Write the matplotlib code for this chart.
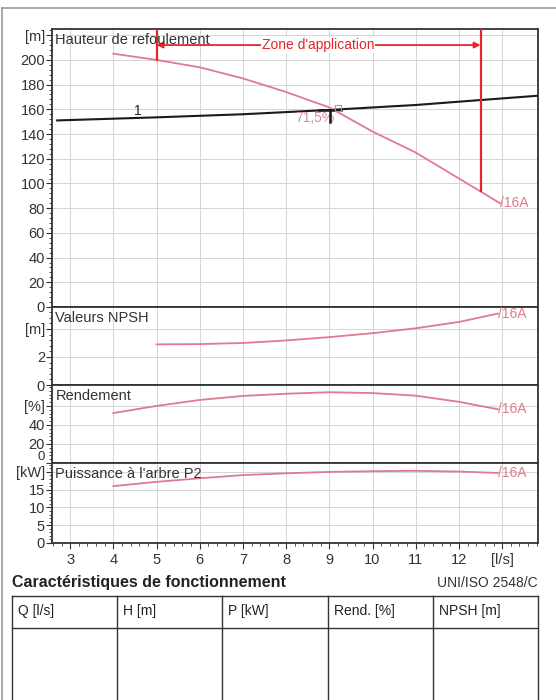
import numpy as np
import matplotlib.pyplot as plt
from matplotlib.ticker import MultipleLocator

plt.rcParams['font.family'] = ['Liberation Sans', 'DejaVu Sans']

# --- données ---
# hauteur (courbe pompe /16A)
q_h = [4, 5, 6, 7, 8, 9, 10, 11, 12, 12.5, 12.95]
h_pompe = [205, 200, 194, 185, 174, 161.5, 142, 125, 104, 93.5, 84]
# courbe du réseau (1)
q_sys = [2.7, 5, 7, 9, 11, 12.5, 13.83]
h_sys = [151, 153.5, 156, 159.5, 163.5, 167.5, 171]
# NPSH
q_npsh = [5, 6, 7, 8, 9, 10, 11, 12, 12.9]
npsh = [2.9, 2.92, 3.0, 3.18, 3.42, 3.7, 4.05, 4.5, 5.1]
# rendement
q_rend = [4, 5, 6, 7, 8, 9, 10, 11, 12, 12.9]
rend = [52.5, 60, 66.3, 70.5, 72.8, 74.4, 73.5, 70.8, 64.3, 56.5]
# puissance P2
q_p2 = [4, 5, 6, 7, 8, 9, 10, 11, 12, 12.9]
p2 = [16.0, 17.2, 18.2, 19.1, 19.6, 20.0, 20.2, 20.3, 20.1, 19.7]

# zone d'application et point de fonctionnement
zone_q = [5, 12.5]
zone_h = [200, 93.5]
q_point, h_point = 9.02, 159.5

x_ticks = [3, 4, 5, 6, 7, 8, 9, 10, 11, 12, 13]
x_labels = ['3', '4', '5', '6', '7', '8', '9', '10', '11', '12', '[l/s]']
headers = ['Q [l/s]', 'H [m]', 'P [kW]', 'Rend. [%]', 'NPSH [m]']

rose = '#e07a8c'
rouge = '#e3262b'
gris_grille = '#d4d4d4'
noir = '#333333'

fig = plt.figure(figsize=(5.56, 7.0), dpi=100)

# fond : cadre + tableau (coordonnées en pixels)
bg = fig.add_axes([0, 0, 1, 1], zorder=-1)
bg.set_xlim(0, 556)
bg.set_ylim(700, 0)
bg.axis('off')
bg.plot([2, 556], [8, 8], color='#9a9a9a', lw=1.2)
bg.plot([2, 2], [8, 700], color='#9a9a9a', lw=1.2)
bg.text(12, 583, 'Caractéristiques de fonctionnement', fontsize=11.5,
        fontweight='bold', va='center', ha='left', color='#222222')
bg.text(538, 583, 'UNI/ISO 2548/C', fontsize=10, va='center', ha='right',
        color='#333333')
col_x = np.linspace(12, 538, 6)
bg.plot([12, 538], [596, 596], color=noir, lw=1)
bg.plot([12, 538], [628, 628], color=noir, lw=1)
for cx in col_x:
    bg.plot([cx, cx], [596, 700], color=noir, lw=1)
for cx, txt in zip(col_x[:-1], headers):
    bg.text(cx + 6, 611, txt, fontsize=10, va='center', ha='left', color='#222222')

# panneaux
left, width = 52 / 556, 486 / 556
def panneau(top_px, bot_px):
    return fig.add_axes([left, 1 - bot_px / 700, width, (bot_px - top_px) / 700])

ax_h = panneau(29, 307)
ax_n = panneau(307, 385)
ax_r = panneau(385, 463)
ax_p = panneau(463, 543)

reglages = [
    (ax_h, (0, 225), [0, 20, 40, 60, 80, 100, 120, 140, 160, 180, 200, 220],
     ['0', '20', '40', '60', '80', '100', '120', '140', '160', '180', '200', '[m]'], 4,
     'Hauteur de refoulement'),
    (ax_n, (0, 5.57), [0, 2, 4], ['0', '2', '[m]'], 0.4, 'Valeurs NPSH'),
    (ax_r, (0, 82), [0, 20, 40, 60], ['0', '20', '40', '[%]'], 4, 'Rendement'),
    (ax_p, (0, 22.5), [0, 5, 10, 15, 20], ['0', '5', '10', '15', '[kW]'], 1,
     "Puissance à l'arbre P2"),
]

for ax, ylim, yt, yl, mn, titre in reglages:
    ax.set_xlim(2.58, 13.83)
    ax.set_ylim(*ylim)
    ax.set_yticks(yt)
    ax.set_yticklabels(yl)
    ax.yaxis.set_minor_locator(MultipleLocator(mn))
    ax.set_xticks(x_ticks)
    ax.xaxis.set_minor_locator(MultipleLocator(0.2))
    ax.grid(True, which='major', color=gris_grille, lw=0.7)
    ax.set_axisbelow(True)
    ax.tick_params(axis='y', which='major', direction='out', length=4,
                   labelsize=10.5, colors=noir, pad=1)
    ax.tick_params(axis='y', which='minor', direction='out', length=2.5, colors=noir)
    for s in ax.spines.values():
        s.set_color(noir)
        s.set_linewidth(1.3)
    ax.text(0.007, 0.985 if ax is ax_h else 0.95, titre, transform=ax.transAxes,
            fontsize=10.5, va='top', ha='left', color='#333333', zorder=5)
    if ax is not ax_p:
        ax.tick_params(axis='x', which='both', bottom=False, labelbottom=False)

# le "0" du rendement légèrement remonté pour ne pas chevaucher [kW]
ax_r.get_yticklabels()[0].set_verticalalignment('bottom')
ax_r.get_yticklabels()[0].set_fontsize(9.5)

ax_p.set_xticklabels(x_labels)
ax_p.tick_params(axis='x', which='major', direction='out', length=4,
                 labelsize=10.5, colors=noir, pad=3)
ax_p.tick_params(axis='x', which='minor', direction='out', length=2.5, colors=noir)

# hauteur
ax_h.plot(q_sys, h_sys, color='#1a1a1a', lw=1.5, zorder=3)
ax_h.plot(q_h, h_pompe, color=rose, lw=1.3, zorder=4)
ax_h.text(4.57, 158.5, '1', fontsize=10, color='#222222', ha='center', va='center')
ax_h.plot([q_point - 0.25, q_point + 0.25], [h_point, h_point], color='#1a1a1a', lw=1.8, zorder=5)
ax_h.plot([q_point, q_point], [h_point, h_point - 10], color='#1a1a1a', lw=1.8, zorder=5)
ax_h.plot([q_point + 0.18], [h_point + 1.8], marker='s', ms=4, mfc='none', mec=rose, mew=0.8, zorder=5)
ax_h.text(8.67, 153, '71,5%', fontsize=10, color='#d88a98', ha='center', va='center', zorder=4)
ax_h.text(q_h[-1], h_pompe[-1], '/16A', fontsize=10, color=rose, ha='left', va='center')

# zone d'application
for zq, zh in zip(zone_q, zone_h):
    ax_h.plot([zq, zq], [zh, 225], color=rouge, lw=1.6, zorder=4)
ax_h.annotate('', xy=(zone_q[0], 212), xytext=(zone_q[1], 212),
              arrowprops=dict(arrowstyle='<|-|>', color=rouge, lw=1.3,
                              mutation_scale=9, shrinkA=0, shrinkB=0), zorder=4)
ax_h.text(8.74, 212, "Zone d'application", fontsize=10, color=rouge, ha='center',
          va='center', zorder=6,
          bbox=dict(facecolor='white', edgecolor='none', pad=0.5))

# NPSH, rendement, puissance
ax_n.plot(q_npsh, npsh, color=rose, lw=1.3)
ax_n.text(q_npsh[-1], npsh[-1], '/16A', fontsize=10, color=rose, ha='left', va='center')
ax_r.plot(q_rend, rend, color=rose, lw=1.3)
ax_r.text(q_rend[-1], rend[-1], '/16A', fontsize=10, color=rose, ha='left', va='center')
ax_p.plot(q_p2, p2, color=rose, lw=1.3)
ax_p.text(q_p2[-1], p2[-1], '/16A', fontsize=10, color=rose, ha='left', va='center')

fig.savefig('out.png', dpi=100)
